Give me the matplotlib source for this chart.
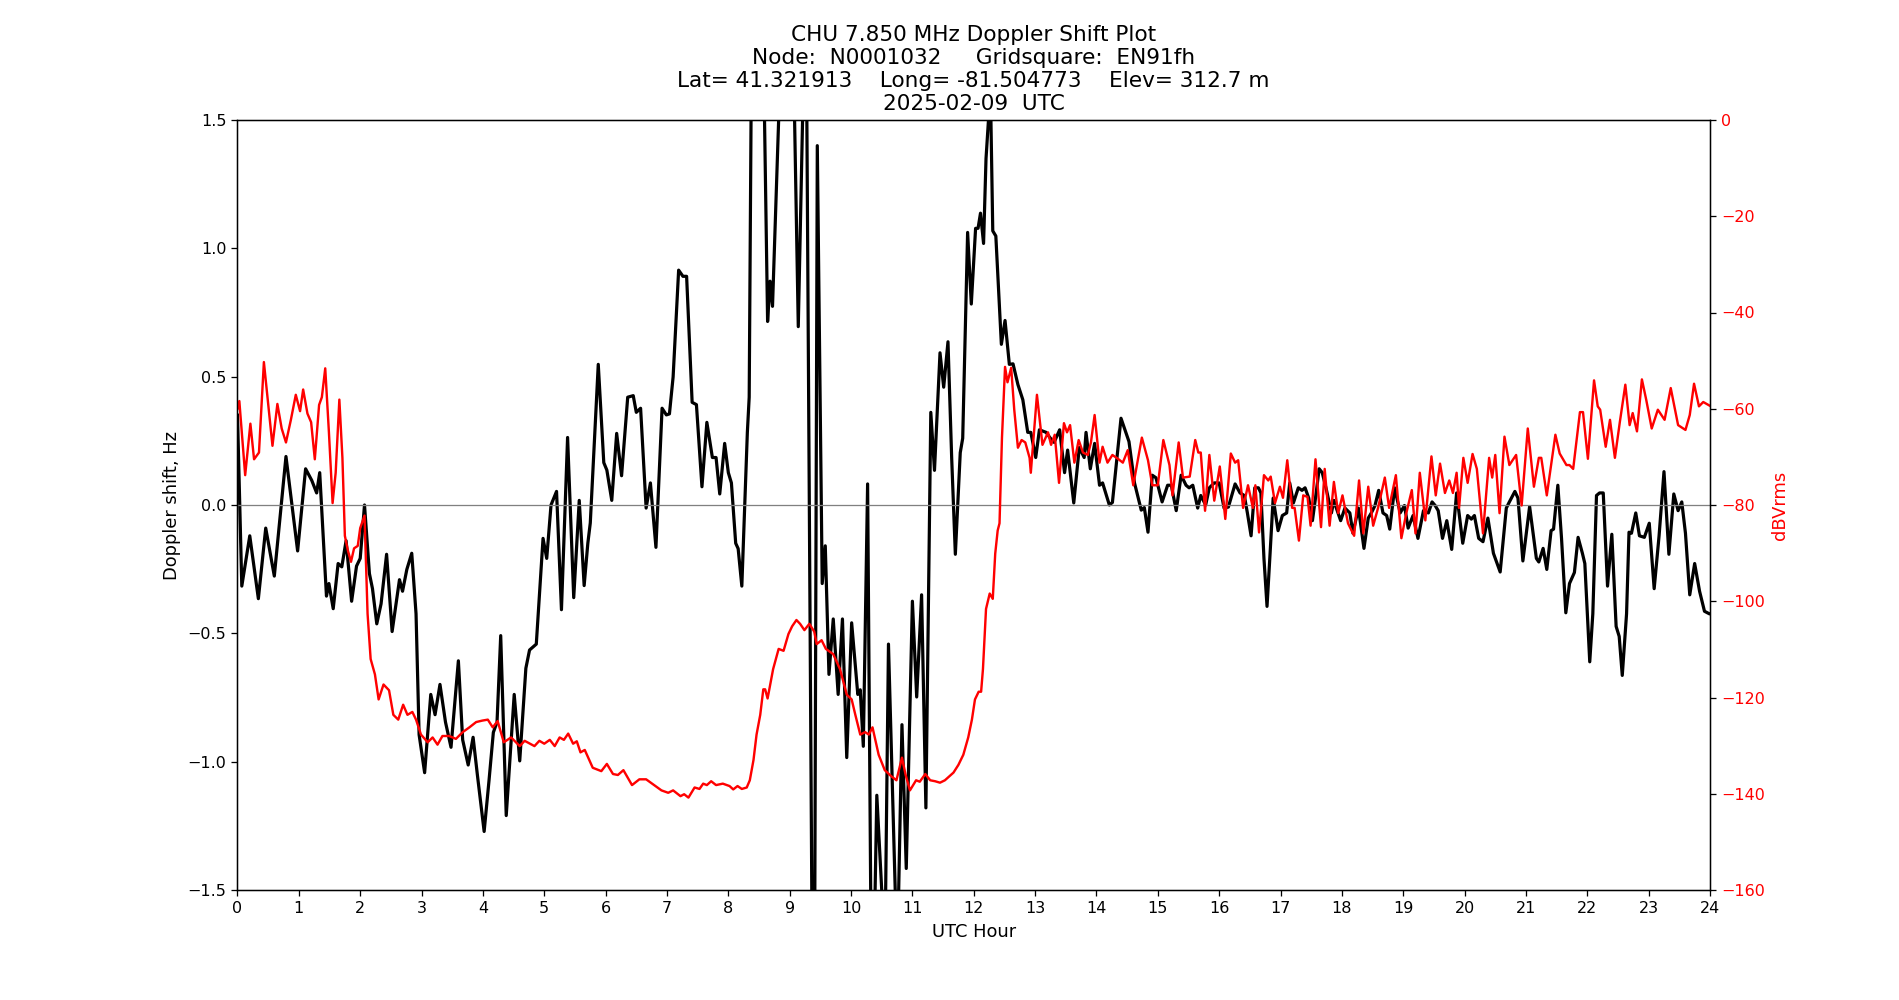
import matplotlib
matplotlib.use("Agg")
import matplotlib.pyplot as plt

# Doppler shift (Hz), hour / value pairs
dop_hours = [0.0, 0.07, 0.20, 0.34, 0.46, 0.60, 0.79, 0.98, 1.11, 1.21, 1.29, 1.34, 1.45, 1.49, 1.56,
             1.64, 1.70, 1.77, 1.86, 1.94, 2.00, 2.07, 2.15, 2.20, 2.27, 2.34, 2.43, 2.52, 2.64, 2.69,
             2.76, 2.84, 2.91, 2.96, 3.05, 3.15, 3.22, 3.30, 3.39, 3.48, 3.60, 3.67, 3.76, 3.84, 3.91,
             4.02, 4.10, 4.17, 4.23, 4.29, 4.38, 4.51, 4.60, 4.70, 4.76, 4.87, 4.98, 5.04, 5.11, 5.20,
             5.28, 5.38, 5.48, 5.57, 5.65, 5.71, 5.75, 5.88, 5.97, 6.02, 6.10, 6.18, 6.26, 6.36, 6.45,
             6.50, 6.57, 6.66, 6.73, 6.82, 6.92, 6.99, 7.04, 7.10, 7.19, 7.26, 7.32, 7.41, 7.48, 7.57,
             7.65, 7.74, 7.80, 7.86, 7.94, 8.00, 8.05, 8.12, 8.16, 8.22, 8.31, 8.34, 8.37, 8.43, 8.52,
             8.59, 8.64, 8.68, 8.72, 8.82, 8.90, 9.00, 9.08, 9.14, 9.21, 9.245, 9.28, 9.36, 9.385, 9.41,
             9.45, 9.53, 9.58, 9.64, 9.71, 9.79, 9.86, 9.93, 10.01, 10.11, 10.15, 10.20, 10.27, 10.32,
             10.37, 10.42, 10.50, 10.55, 10.61, 10.72, 10.76, 10.83, 10.90, 11.00, 11.07, 11.15, 11.22,
             11.30, 11.36, 11.45, 11.51, 11.58, 11.64, 11.70, 11.78, 11.82, 11.90, 11.96, 12.03, 12.07,
             12.11, 12.16, 12.20, 12.24, 12.26, 12.28, 12.31, 12.36, 12.45, 12.51, 12.58, 12.64, 12.72,
             12.80, 12.88, 12.93, 13.01, 13.07, 13.18, 13.24, 13.31, 13.40, 13.48, 13.53, 13.63, 13.72,
             13.80, 13.83, 13.90, 13.97, 14.05, 14.10, 14.21, 14.26, 14.40, 14.53, 14.62, 14.73, 14.78,
             14.84, 14.91, 14.97, 15.07, 15.16, 15.22, 15.30, 15.38, 15.46, 15.51, 15.57, 15.65, 15.70,
             15.78, 15.84, 15.92, 16.00, 16.08, 16.15, 16.26, 16.34, 16.41, 16.46, 16.52, 16.58, 16.64,
             16.68, 16.73, 16.78, 16.83, 16.88, 16.96, 17.03, 17.10, 17.15, 17.21, 17.29, 17.35, 17.40,
             17.46, 17.52, 17.57, 17.63, 17.68, 17.75, 17.83, 17.87, 17.91, 17.98, 18.05, 18.13, 18.18,
             18.27, 18.36, 18.43, 18.48, 18.54, 18.60, 18.67, 18.73, 18.78, 18.86, 18.95, 19.02, 19.08,
             19.16, 19.24, 19.33, 19.41, 19.47, 19.52, 19.57, 19.64, 19.71, 19.79, 19.87, 19.97, 20.05,
             20.11, 20.16, 20.23, 20.30, 20.38, 20.47, 20.58, 20.68, 20.73, 20.82, 20.87, 20.95, 21.06,
             21.17, 21.21, 21.28, 21.34, 21.41, 21.45, 21.52, 21.58, 21.65, 21.71, 21.79, 21.85, 21.92,
             21.96, 22.04, 22.09, 22.15, 22.20, 22.26, 22.33, 22.40, 22.47, 22.52, 22.57, 22.64, 22.68,
             22.72, 22.79, 22.85, 22.93, 23.01, 23.09, 23.17, 23.25, 23.33, 23.41, 23.48, 23.54, 23.60,
             23.67, 23.75, 23.83, 23.91, 23.99, 24.0]
dop_hz = [0.35, -0.316, -0.12, -0.365, -0.09, -0.277, 0.189, -0.179, 0.141, 0.096, 0.047, 0.126, -0.355, -0.306, -0.404,
          -0.228, -0.241, -0.139, -0.375, -0.238, -0.208, 0.0, -0.267, -0.326, -0.463, -0.385, -0.192, -0.493, -0.291, -0.336,
          -0.251, -0.188, -0.424, -0.895, -1.043, -0.738, -0.817, -0.699, -0.846, -0.944, -0.607, -0.915, -1.013, -0.905, -1.052,
          -1.272, -1.072, -0.886, -0.846, -0.509, -1.21, -0.738, -0.997, -0.636, -0.565, -0.542, -0.13, -0.208, 0.0, 0.053,
          -0.408, 0.263, -0.361, 0.018, -0.314, -0.149, -0.07, 0.548, 0.165, 0.136, 0.018, 0.279, 0.114, 0.42, 0.426,
          0.361, 0.377, -0.012, 0.086, -0.165, 0.377, 0.351, 0.355, 0.499, 0.915, 0.891, 0.891, 0.40, 0.391, 0.071,
          0.322, 0.185, 0.185, 0.043, 0.24, 0.126, 0.086, -0.149, -0.17, -0.316, 0.283, 0.42, 1.5, 2.3, 2.2,
          1.5, 0.715, 0.872, 0.774, 1.5, 2.2, 2.0, 1.5, 0.695, 1.5, 1.8, 1.5, -1.5, -1.8, -1.5,
          1.40, -0.306, -0.159, -0.66, -0.444, -0.738, -0.444, -0.984, -0.459, -0.738, -0.72, -0.94, 0.082, -1.5,
          -1.8, -1.131, -1.5, -1.8, -0.542, -1.5, -1.7, -0.856, -1.416, -0.375, -0.748, -0.35, -1.18,
          0.361, 0.135, 0.593, 0.459, 0.636, 0.185, -0.192, 0.204, 0.26, 1.062, 0.783, 1.078, 1.078,
          1.137, 1.019, 1.35, 1.5, 1.7, 1.5, 1.068, 1.048, 0.626, 0.719, 0.548, 0.55, 0.469,
          0.41, 0.283, 0.283, 0.185, 0.293, 0.283, 0.263, 0.244, 0.293, 0.126, 0.214, 0.008, 0.224,
          0.185, 0.283, 0.141, 0.24, 0.077, 0.086, 0.0, 0.01, 0.338, 0.247, 0.086, -0.02, -0.01,
          -0.106, 0.116, 0.106, 0.012, 0.077, 0.077, -0.022, 0.116, 0.077, 0.067, 0.077, -0.012, 0.037,
          0.0, 0.067, 0.086, 0.086, -0.012, -0.008, 0.082, 0.047, 0.037, -0.031, -0.12, 0.067, 0.067,
          0.047, -0.208, -0.395, -0.188, 0.027, -0.10, -0.041, -0.031, 0.086, 0.008, 0.067, 0.057, 0.067,
          0.027, -0.061, 0.027, 0.141, 0.126, 0.057, -0.031, 0.018, -0.012, -0.061, -0.012, -0.031, -0.11,
          -0.012, -0.169, -0.051, -0.031, -0.002, 0.057, -0.031, -0.041, -0.094, 0.067, -0.031, -0.002, -0.09,
          -0.041, -0.13, -0.022, -0.031, 0.012, -0.002, -0.022, -0.13, -0.061, -0.173, 0.047, -0.149, -0.041,
          -0.055, -0.041, -0.13, -0.143, -0.051, -0.188, -0.261, -0.012, 0.012, 0.053, 0.027, -0.218, -0.006,
          -0.208, -0.222, -0.169, -0.251, -0.10, -0.094, 0.077, -0.13, -0.42, -0.306, -0.263, -0.126, -0.188,
          -0.228, -0.611, -0.424, 0.037, 0.047, 0.047, -0.316, -0.114, -0.473, -0.512, -0.664, -0.424, -0.106,
          -0.11, -0.031, -0.12, -0.126, -0.071, -0.326, -0.12, 0.13, -0.192, 0.043, -0.022, 0.012, -0.11,
          -0.35, -0.228, -0.336, -0.414, -0.424, -0.424]

# Signal level (dBVrms)
db_hours = [0.0, 0.03, 0.125, 0.21, 0.27, 0.35, 0.43, 0.57, 0.65, 0.72, 0.79, 0.87, 0.95, 1.02, 1.07,
            1.14, 1.20, 1.26, 1.33, 1.375, 1.43, 1.49, 1.55, 1.60, 1.66, 1.71, 1.75, 1.80, 1.85, 1.90,
            1.96, 2.00, 2.07, 2.12, 2.17, 2.24, 2.30, 2.38, 2.47, 2.54, 2.62, 2.70, 2.77, 2.85, 2.91,
            2.99, 3.10, 3.18, 3.26, 3.34, 3.45, 3.56, 3.67, 3.78, 3.89, 3.99, 4.08, 4.16, 4.24, 4.34,
            4.46, 4.60, 4.68, 4.84, 4.92, 5.00, 5.09, 5.17, 5.25, 5.32, 5.39, 5.47, 5.53, 5.59, 5.66,
            5.79, 5.93, 6.02, 6.12, 6.20, 6.29, 6.43, 6.55, 6.66, 6.77, 6.91, 7.02, 7.10, 7.22, 7.28,
            7.35, 7.45, 7.53, 7.59, 7.65, 7.72, 7.80, 7.91, 8.02, 8.08, 8.15, 8.22, 8.30, 8.35, 8.41,
            8.46, 8.52, 8.57, 8.60, 8.64, 8.73, 8.82, 8.90, 8.98, 9.04, 9.11, 9.17, 9.24, 9.32, 9.40,
            9.44, 9.52, 9.59, 9.71, 9.82, 9.93, 10.01, 10.07, 10.15, 10.23, 10.29, 10.35, 10.45, 10.55,
            10.65, 10.74, 10.83, 10.89, 10.96, 11.06, 11.12, 11.21, 11.29, 11.37, 11.45, 11.53, 11.67,
            11.75, 11.83, 11.91, 11.97, 12.02, 12.08, 12.12, 12.15, 12.20, 12.26, 12.31, 12.35, 12.39,
            12.42, 12.46, 12.51, 12.55, 12.61, 12.66, 12.72, 12.78, 12.84, 12.91, 12.93, 13.03, 13.12,
            13.21, 13.26, 13.32, 13.39, 13.47, 13.52, 13.57, 13.64, 13.71, 13.78, 13.86, 13.91, 13.97,
            14.05, 14.10, 14.18, 14.26, 14.35, 14.43, 14.51, 14.60, 14.74, 14.84, 14.91, 15.00, 15.09,
            15.19, 15.24, 15.34, 15.41, 15.52, 15.61, 15.66, 15.70, 15.77, 15.84, 15.92, 16.01, 16.10,
            16.19, 16.26, 16.31, 16.39, 16.47, 16.55, 16.59, 16.65, 16.73, 16.80, 16.84, 16.91, 16.99,
            17.04, 17.11, 17.19, 17.23, 17.30, 17.37, 17.44, 17.49, 17.57, 17.66, 17.72, 17.80, 17.87,
            17.94, 18.01, 18.10, 18.20, 18.28, 18.35, 18.43, 18.51, 18.59, 18.70, 18.77, 18.88, 18.97,
            19.05, 19.14, 19.20, 19.27, 19.36, 19.46, 19.53, 19.60, 19.68, 19.75, 19.81, 19.87, 19.91,
            19.98, 20.05, 20.13, 20.20, 20.30, 20.40, 20.45, 20.50, 20.57, 20.65, 20.73, 20.84, 20.93,
            21.03, 21.13, 21.21, 21.25, 21.34, 21.48, 21.55, 21.66, 21.71, 21.77, 21.88, 21.93, 22.01,
            22.11, 22.17, 22.21, 22.30, 22.37, 22.45, 22.53, 22.62, 22.69, 22.74, 22.81, 22.89, 22.96,
            23.05, 23.15, 23.26, 23.36, 23.48, 23.60, 23.67, 23.74, 23.82, 23.89, 24.0]
db_vals = [-60.0, -58.4, -73.8, -63.1, -70.5, -69.1, -50.3, -67.7, -59.0, -64.1, -67.0, -62.3, -57.1, -60.5, -56.0,
           -61.0, -62.8, -70.5, -59.2, -57.6, -51.6, -64.9, -79.6, -73.3, -58.1, -70.2, -86.4, -89.5, -91.8, -89.0,
           -88.5, -84.8, -82.2, -102.6, -112.0, -115.2, -120.4, -117.3, -118.5, -123.6, -124.6, -121.5, -123.6, -123.0, -124.6,
           -127.7, -129.3, -128.3, -129.8, -128.0, -128.0, -128.6, -127.2, -126.2, -125.1, -124.8, -124.6, -126.2, -124.9, -129.3,
           -128.3, -130.1, -129.0, -130.1, -129.0, -129.6, -128.8, -130.1, -128.3, -128.8, -127.5, -129.6, -129.1, -131.4, -130.9,
           -134.6, -135.3, -133.8, -135.9, -136.1, -135.1, -138.2, -137.0, -137.0, -138.0, -139.3, -139.8, -139.3, -140.5, -140.1,
           -140.8, -138.7, -139.0, -137.9, -138.2, -137.4, -138.2, -137.9, -138.4, -139.1, -138.4, -139.0, -138.7, -137.2, -133.0,
           -127.7, -123.6, -118.3, -118.3, -120.2, -114.1, -109.9, -110.3, -106.8, -105.2, -103.9, -104.7, -106.0, -104.7, -106.3,
           -108.9, -108.1, -109.9, -111.0, -114.1, -119.4, -120.4, -123.6, -127.7, -127.2, -127.7, -126.2, -131.9, -135.1,
           -136.3, -137.2, -132.5, -136.1, -139.3, -137.2, -137.5, -135.9, -137.2, -137.4, -137.7, -137.2, -135.6,
           -134.0, -131.9, -128.3, -124.6, -120.4, -118.8, -118.8, -114.1, -101.6, -98.4, -99.5, -90.1, -85.3,
           -83.8, -66.0, -51.3, -54.5, -51.5, -60.2, -68.1, -66.5, -67.0, -70.2, -73.3, -57.1, -67.5,
           -64.9, -67.5, -65.4, -75.4, -63.0, -64.9, -63.4, -71.2, -66.5, -69.1, -69.6, -67.0, -61.3,
           -71.2, -67.9, -71.2, -69.6, -70.4, -71.2, -68.6, -75.9, -66.0, -70.7, -75.9, -75.9, -66.5,
           -71.7, -78.0, -67.0, -74.3, -74.1, -66.5, -69.1, -69.1, -81.2, -69.6, -79.1, -72.0, -82.9,
           -69.3, -71.2, -70.7, -80.6, -75.9, -80.6, -75.9, -85.7, -73.8, -74.9, -74.1, -79.6, -76.2,
           -78.5, -70.7, -80.6, -80.6, -87.4, -78.0, -78.3, -84.3, -70.5, -84.6, -72.5, -84.3, -75.2,
           -81.7, -78.0, -83.8, -86.4, -74.9, -85.9, -76.2, -84.3, -80.6, -74.3, -80.6, -73.8, -86.9,
           -81.7, -76.9, -85.9, -73.3, -83.2, -69.9, -78.0, -71.4, -77.5, -74.9, -77.5, -73.3, -80.6,
           -70.2, -75.4, -69.4, -72.5, -85.9, -70.2, -74.3, -69.6, -81.7, -65.8, -71.7, -69.6, -80.1,
           -64.1, -76.2, -70.2, -70.2, -78.0, -65.4, -69.3, -71.7, -71.7, -72.5, -60.7, -60.7, -70.4,
           -54.1, -59.5, -60.2, -67.9, -62.3, -70.2, -62.8, -55.0, -63.4, -60.9, -64.7, -53.9, -58.1,
           -64.1, -60.2, -62.3, -55.7, -63.4, -64.4, -61.3, -54.8, -59.5, -58.6, -59.4]

title_lines = ["CHU 7.850 MHz Doppler Shift Plot",
               "Node:  N0001032     Gridsquare:  EN91fh",
               "Lat= 41.321913    Long= -81.504773    Elev= 312.7 m",
               "2025-02-09  UTC"]

fig = plt.figure(figsize=(1900 / 115, 1000 / 115), dpi=115)
ax = fig.add_subplot(111)
ax.plot(dop_hours, dop_hz, color='black', linewidth=2)
ax.axhline(0, color='grey', linewidth=0.8)
ax.set_xlim(0, 24)
ax.set_ylim(-1.5, 1.5)
ax.set_xticks(range(0, 25))
ax.set_xlabel("UTC Hour", fontsize=11.2)
ax.set_ylabel("Doppler shift, Hz", fontsize=11.2)
ax.set_title("\n".join(title_lines), fontsize=13.5)

ax2 = ax.twinx()
ax2.plot(db_hours, db_vals, color='red', linewidth=1.5)
ax2.set_ylim(-160, 0)
ax2.set_ylabel("dBVrms", color='red', fontsize=11.2)
ax2.tick_params(axis='y', labelcolor='red')

fig.savefig("out.png", dpi=115)
